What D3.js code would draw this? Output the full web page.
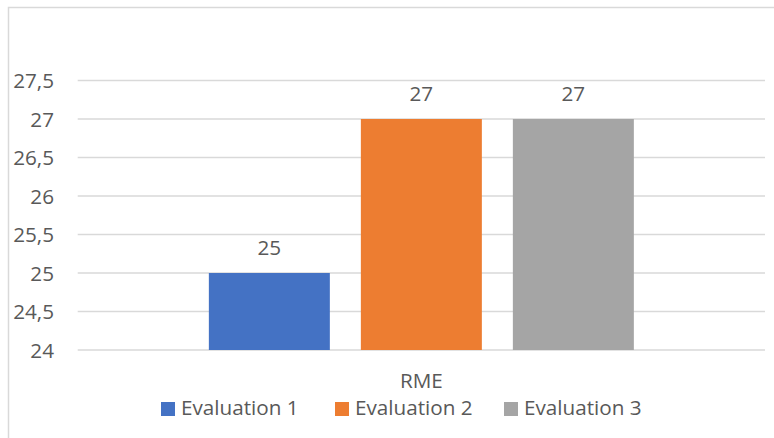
<!DOCTYPE html>
<html>
<head>
<meta charset="utf-8">
<script src="https://cdn.jsdelivr.net/npm/d3@7"></script>
<style>
  html, body { margin: 0; padding: 0; background: #fff; }
  svg { display: block; }
  text { font-family: "Open Sans", "Noto Sans", sans-serif; fill: #595959; }
</style>
</head>
<body>
<svg id="chart" width="774" height="438"></svg>
<script>
const categories = ["RME"];
const seriesNames = ["Evaluation 1", "Evaluation 2", "Evaluation 3"];
const seriesValues = [25, 27, 27];
const seriesColors = ["#4472C4", "#ED7D31", "#A5A5A5"];
const yTicks = [24, 24.5, 25, 25.5, 26, 26.5, 27, 27.5];
const yDomain = [24, 27.5];

const W = 774, H = 438;
const FS = "20.7px";
const plot = { left: 77.7, right: 765, top: 80.5, bottom: 350 };
const svg = d3.select("#chart");

// chart border (extends beyond the photographed area on right/bottom)
svg.append("rect")
  .attr("x", 8.5).attr("y", 7.5)
  .attr("width", W + 10).attr("height", H + 10)
  .attr("fill", "#fff").attr("stroke", "#d9d9d9").attr("stroke-width", 1.5);

const y = d3.scaleLinear().domain(yDomain).range([plot.bottom, plot.top]);
const x0 = d3.scaleBand().domain(categories).range([plot.left, plot.right])
  .paddingInner(0).paddingOuter(0.3086);
const x1 = d3.scaleBand().domain(seriesNames).range([0, x0.bandwidth()])
  .paddingInner(0.204).paddingOuter(0);

// gridlines
svg.append("g").selectAll("line").data(yTicks).join("line")
  .attr("x1", plot.left).attr("x2", plot.right)
  .attr("y1", d => y(d)).attr("y2", d => y(d))
  .attr("stroke", "#d9d9d9").attr("stroke-width", 1.5);

// y axis labels
const yAxis = d3.axisLeft(y).tickValues(yTicks)
  .tickFormat(d => String(d).replace(".", ",")).tickSize(0).tickPadding(0);
const gy = svg.append("g").attr("transform", `translate(54,0)`).call(yAxis);
gy.select(".domain").remove();
gy.selectAll("text").style("font-size", FS).attr("fill", "#595959")
  .attr("font-family", "Open Sans").attr("dy", "0.35em");

// bars
const data = seriesNames.map((s, i) => ({ cat: categories[0], name: s, value: seriesValues[i], color: seriesColors[i] }));
const bars = svg.append("g");
bars.selectAll("rect").data(data).join("rect")
  .attr("x", d => x0(d.cat) + x1(d.name))
  .attr("width", x1.bandwidth())
  .attr("y", d => y(d.value))
  .attr("height", d => y(yDomain[0]) - y(d.value))
  .attr("fill", d => d.color);

// value labels
bars.selectAll("text").data(data).join("text")
  .attr("x", d => x0(d.cat) + x1(d.name) + x1.bandwidth() / 2)
  .attr("y", d => y(d.value) - 18)
  .attr("text-anchor", "middle")
  .style("font-size", FS)
  .text(d => d.value);

// category label
svg.append("g").selectAll("text").data(categories).join("text")
  .attr("x", d => x0(d) + x0.bandwidth() / 2)
  .attr("y", 388)
  .attr("text-anchor", "middle")
  .style("font-size", FS)
  .text(d => d);

// legend
const legendX = [161, 335, 504];
const lg = svg.append("g");
const items = lg.selectAll("g").data(data).join("g")
  .attr("transform", (d, i) => `translate(${legendX[i]},402)`);
items.append("rect").attr("width", 14).attr("height", 14).attr("fill", d => d.color);
items.append("text").attr("x", 20).attr("y", 13)
  .style("font-size", FS).text(d => d.name);
</script>
</body>
</html>
